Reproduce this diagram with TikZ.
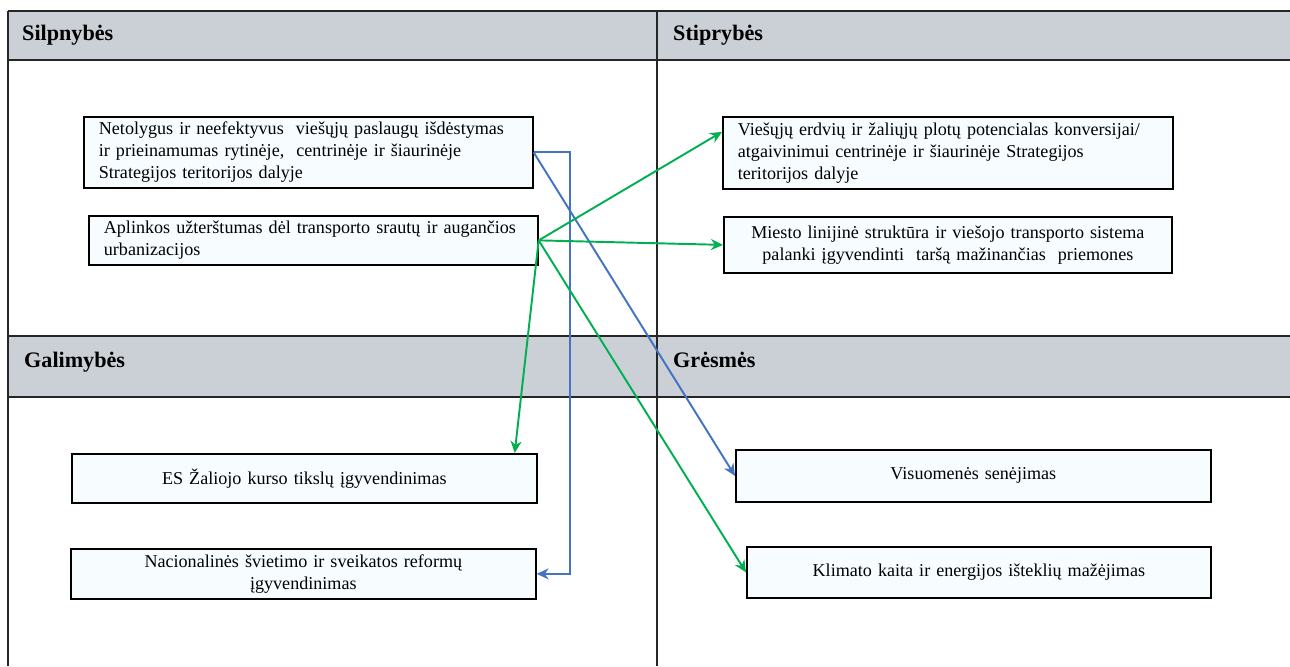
\documentclass[tikz,border=0pt]{standalone}
\usepackage{fontspec}
\setmainfont{Liberation Serif}
\usetikzlibrary{arrows.meta}
\definecolor{headgray}{RGB}{203,207,214}
\definecolor{boxfill}{RGB}{247,253,255}
\definecolor{swotgreen}{RGB}{0,176,80}
\definecolor{swotblue}{RGB}{68,114,196}
\tikzset{
  frame/.style={line width=1.2pt,black!85},
  head/.style={anchor=base west,font=\fontsize{12.6}{14}\selectfont\bfseries},
  cell/.style={draw=black,line width=1pt,fill=boxfill,anchor=north west,
    inner xsep=0.3cm,inner ysep=0pt,font=\fontsize{10.3}{12.6}\selectfont},
  link/.style={->,line width=1.1pt},
}
\begin{document}
\begin{tikzpicture}[x=0.02cm,y=-0.02cm,>={Stealth[length=2.4mm,width=2.2mm]}]
	\useasboundingbox (0,0) rectangle (1290,666);
	% header bands
	\fill[headgray] (8,11) rectangle (1290,60);
	\fill[headgray] (8,336) rectangle (1290,397);
	\draw[frame] (8,11)--(1290,11) (8,60)--(1290,60);
	\draw[frame] (8,336)--(1290,336) (8,397)--(1290,397);
	\draw[frame] (8,11)--(8,666) (657,11)--(657,666);
	\node[head] (silp) at (16,40) {Silpnybės};
	\node[head] (stip) at (667,40) {Stiprybės};
	\node[head] (gali) at (18,367) {Galimybės};
	\node[head] (gres) at (667,367) {Grėsmės};
	% boxes
	\node[cell,text width=8.38cm,minimum height=1.42cm,align=left] (net) at (83,116)
		{Netolygus ir neefektyvus \ viešųjų paslaugų išdėstymas\\ir prieinamumas rytinėje, \ centrinėje ir šiaurinėje\\Strategijos teritorijos dalyje};
	\node[cell,text width=8.38cm,minimum height=0.98cm,align=left] (apl) at (88,215)
		{Aplinkos užterštumas dėl transporto srautų ir augančios\\urbanizacijos};
	\node[cell,text width=8.4cm,minimum height=1.44cm,align=left] (vie) at (722,116)
		{Viešųjų erdvių ir žaliųjų plotų potencialas konversijai/\\atgaivinimui centrinėje ir šiaurinėje Strategijos\\teritorijos dalyje};
	\node[cell,text width=8.36cm,minimum height=1.12cm,align=center] (mie) at (723,216)
		{Miesto linijinė struktūra ir viešojo transporto sistema\\palanki įgyvendinti \ taršą mažinančias \ priemones};
	\node[cell,text width=8.7cm,minimum height=0.98cm,align=center] (es) at (71,453)
		{ES Žaliojo kurso tikslų įgyvendinimas};
	\node[cell,text width=8.7cm,minimum height=1.0cm,align=center] (nac) at (70,548)
		{Nacionalinės švietimo ir sveikatos reformų\\įgyvendinimas};
	\node[cell,text width=8.9cm,minimum height=1.04cm,align=center] (vis) at (735,449)
		{Visuomenės senėjimas};
	\node[cell,text width=8.68cm,minimum height=1.02cm,align=center] (kli) at (746,546)
		{Klimato kaita ir energijos išteklių mažėjimas};
	% links
	\draw[link,swotblue] (net.east) -- ++(36,0) |- (nac.east);
	\draw[link,swotblue] (net.east) -- (vis.west);
	\draw[link,swotgreen] (apl.east) -- ([yshift=4.2mm]vie.west);
	\draw[link,swotgreen] (apl.east) -- (mie.west);
	\draw[link,swotgreen] (apl.east) -- ([xshift=-4.6mm]es.north east);
	\draw[link,swotgreen] (apl.east) -- (kli.west);
\end{tikzpicture}
\end{document}
